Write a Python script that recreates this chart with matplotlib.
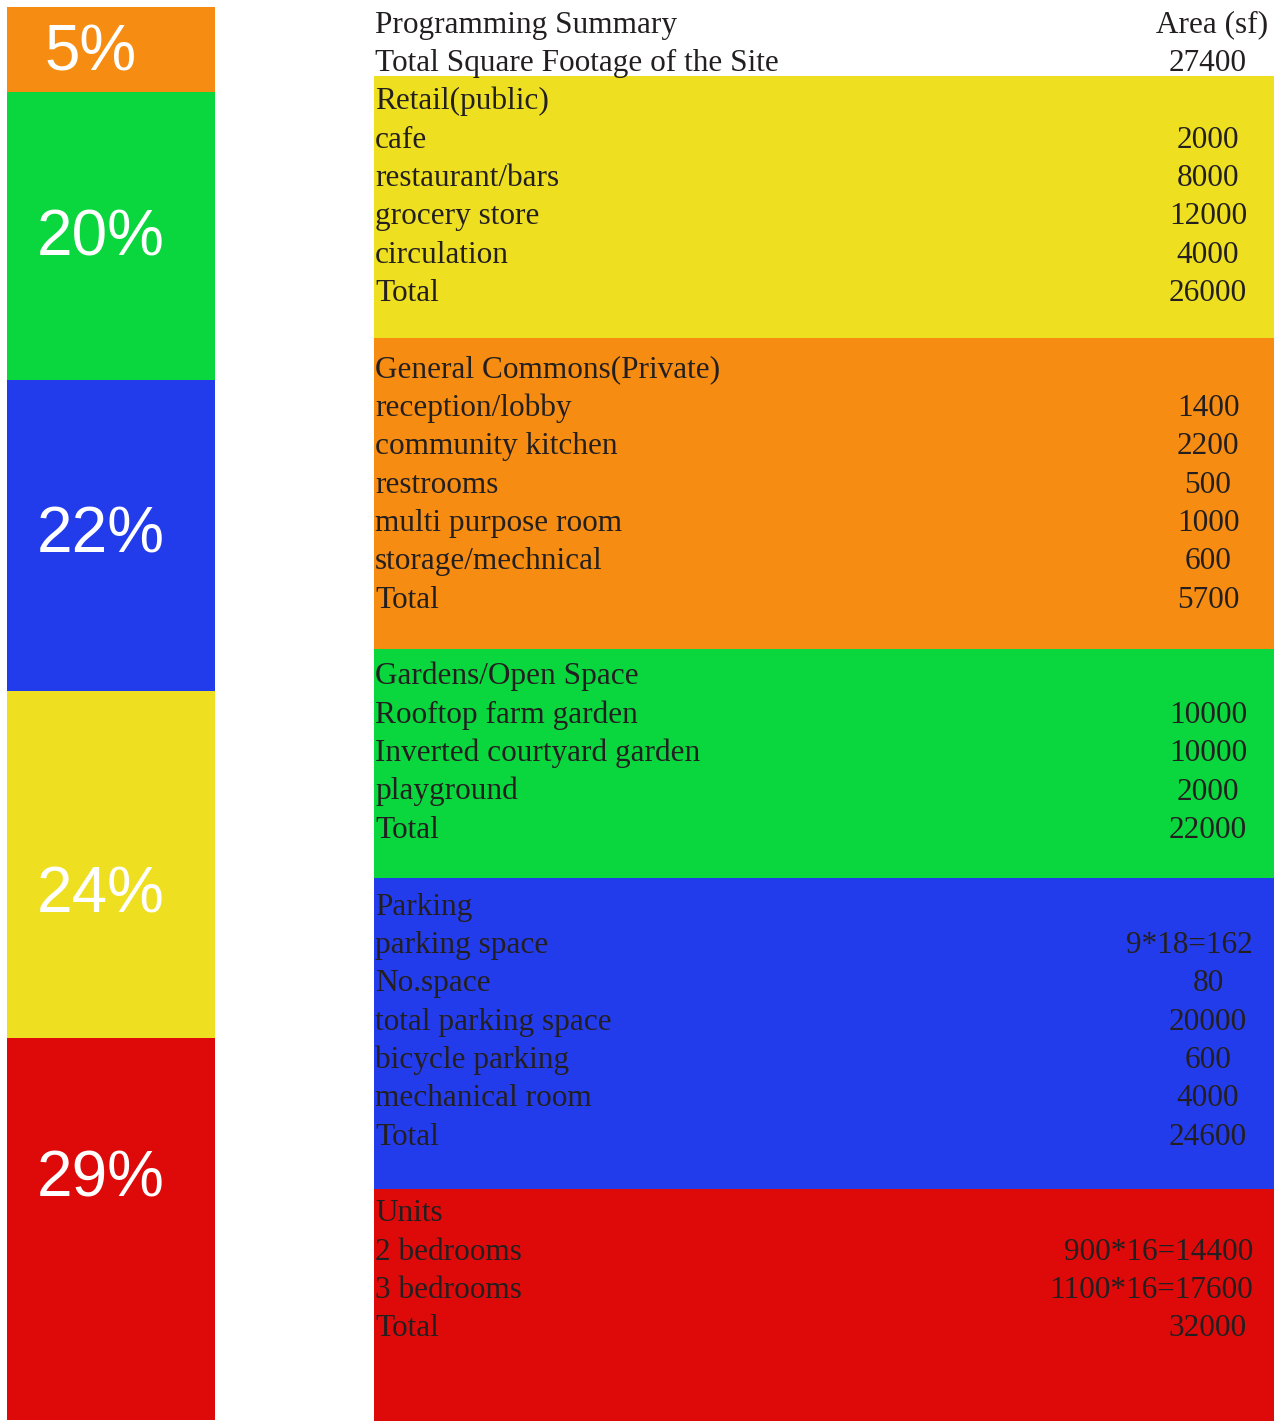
import matplotlib
matplotlib.use("Agg")
import matplotlib.pyplot as plt
import numpy as np

# ---------------- data ----------------
segment_labels = ["5%", "20%", "22%", "24%", "29%"]
segment_sizes = [6.0, 20.4, 22.0, 24.6, 27.0]   # relative heights
segment_colors = ["#F68D12", "#0AD63E", "#233CEB", "#EEE020", "#DE0A0A"]

header_left = "Programming Summary"
header_right = "Area (sf)"
site_label = "Total Square Footage of the Site"
site_value = "27400"

section_titles = ["Retail(public)", "General Commons(Private)", "Gardens/Open Space",
                  "Parking", "Units"]
retail_items = ["cafe", "restaurant/bars", "grocery store", "circulation", "Total"]
retail_values = ["2000", "8000", "12000", "4000", "26000"]
commons_items = ["reception/lobby", "community kitchen", "restrooms",
                 "multi purpose room", "storage/mechnical", "Total"]
commons_values = ["1400", "2200", "500", "1000", "600", "5700"]
garden_items = ["Rooftop farm garden", "Inverted courtyard garden", "playground", "Total"]
garden_values = ["10000", "10000", "2000", "22000"]
parking_items = ["parking space", "No.space", "total parking space",
                 "bicycle parking", "mechanical room", "Total"]
parking_values = ["9*18=162", "80", "20000", "600", "4000", "24600"]
units_items = ["2 bedrooms", "3 bedrooms", "Total"]
units_values = ["900*16=14400", "1100*16=17600", "32000"]

section_items = [retail_items, commons_items, garden_items, parking_items, units_items]
section_values = [retail_values, commons_values, garden_values, parking_values, units_values]
section_colors = ["#EEE020", "#F68D12", "#0AD63E", "#233CEB", "#DE0A0A"]

# ---------------- figure ----------------
W, H = 1275, 1421
fig = plt.figure(figsize=(W / 100, H / 100), dpi=100)
fig.patch.set_facecolor("white")

# left stacked bar
bx0, bx1, by0, by1 = 7, 215, 7, 1420
axb = fig.add_axes([bx0 / W, 1 - by1 / H, (bx1 - bx0) / W, (by1 - by0) / H])
total = sum(segment_sizes)
bottoms = np.concatenate([[0], np.cumsum(segment_sizes)[:-1]])
axb.bar([0] * len(segment_sizes), segment_sizes, bottom=bottoms, width=1.0,
        color=segment_colors, linewidth=0)
axb.set_xlim(-0.5, 0.5)
axb.set_ylim(total, 0)
axb.axis("off")
label_frac = [0.55, 0.51, 0.50, 0.59, 0.37]
label_x = [-0.096, -0.048, -0.048, -0.048, -0.048]
for lab, b, s, f, lx in zip(segment_labels, bottoms, segment_sizes, label_frac, label_x):
    axb.text(lx, b + s * f, lab, ha="center", va="center", color="white",
             fontsize=46, family=["Liberation Sans", "DejaVu Sans"])

# table panel in pixel coordinates
ax = fig.add_axes([0, 0, 1, 1])
ax.set_xlim(0, W)
ax.set_ylim(H, 0)
ax.axis("off")
ax.patch.set_alpha(0)

band_tops = [76, 338, 649, 878, 1189]
band_bottoms = band_tops[1:] + [H]
for t, b, c in zip(band_tops, band_bottoms, section_colors):
    ax.fill_between([374, 1274], t, b, color=c, linewidth=0, zorder=0)

txt_kw = dict(fontsize=22.5, color="#231F20", family=["Liberation Serif", "DejaVu Serif"],
              va="baseline", zorder=3)
base0, pitch = 32.5, 38.35
left_x, val_x, val_right = 375, 1208, 1253

def put_row(i, left, right=None):
    y = base0 + i * pitch
    ax.text(left_x, y, left, ha="left", **txt_kw)
    if right is not None:
        if len(right) > 7:
            ax.text(val_right, y, right, ha="right", **txt_kw)
        else:
            ax.text(val_x, y, right, ha="center", **txt_kw)

put_row(0, header_left)
ax.text(1268, base0, header_right, ha="right", **txt_kw)
put_row(1, site_label, site_value)
row = 2
for title, items, vals in zip(section_titles, section_items, section_values):
    put_row(row, title)
    row += 1
    for it, v in zip(items, vals):
        put_row(row, it, v)
        row += 1
    row += 1

fig.savefig("out.png", dpi=100, facecolor="white")
